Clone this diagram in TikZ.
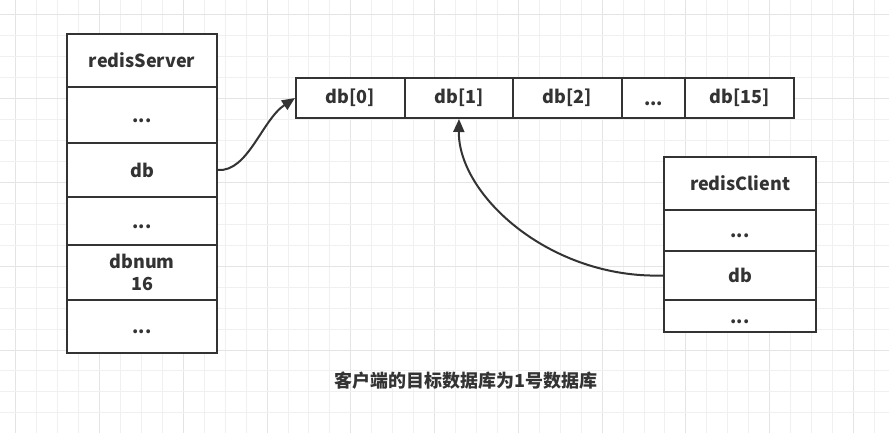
\documentclass[tikz,border=0pt]{standalone}
\usepackage{fontspec}
\setmainfont{Noto Sans CJK SC}
\usetikzlibrary{arrows.meta}
\definecolor{ink}{HTML}{333333}
\definecolor{gridminor}{HTML}{F0F0F0}
\definecolor{gridmajor}{HTML}{E4E4E4}
\newcommand{\dotsx}{\vphantom{db}...}
\tikzset{
  cell/.style={draw=ink, line width=2pt, fill=white, inner sep=0pt, text=ink,
    font=\fontsize{18}{22}\selectfont\bfseries, align=center},
  link/.style={draw=ink, line width=2pt, -{Triangle[length=13pt,width=11pt]}},
}
\begin{document}
\begin{tikzpicture}[x=1pt,y=-1pt]
\useasboundingbox (0,0) rectangle (889,433);
\fill[white] (0,0) rectangle (889,433);
% grid
\foreach \i in {0,...,42}{
  \pgfmathsetmacro{\gx}{15.8+20.94*\i}
  \pgfmathtruncatemacro{\m}{mod(\i,4)}
  \ifnum\m=0 \draw[gridmajor,line width=1pt] (\gx,0) -- (\gx,433);
  \else \draw[gridminor,line width=1pt] (\gx,0) -- (\gx,433); \fi
}
\foreach \j in {0,...,20}{
  \pgfmathsetmacro{\gy}{15+20.94*\j}
  \pgfmathtruncatemacro{\m}{mod(\j,4)}
  \ifnum\m=0 \draw[gridmajor,line width=1pt] (0,\gy) -- (889,\gy);
  \else \draw[gridminor,line width=1pt] (0,\gy) -- (889,\gy); \fi
}
% redisServer
\node[cell, minimum width=150pt, minimum height=53pt] (s1) at (142,60.5) {redisServer};
\node[cell, minimum width=150pt, minimum height=56pt] (s2) at (142,115) {\dotsx};
\node[cell, minimum width=150pt, minimum height=54pt] (s3) at (142,170) {db};
\node[cell, minimum width=150pt, minimum height=48pt] (s4) at (142,221) {\dotsx};
\node[cell, minimum width=150pt, minimum height=55pt] (s5) at (142,272.5) {dbnum\\16};
\node[cell, minimum width=150pt, minimum height=53pt] (s6) at (142,326.5) {\dotsx};
% db array
\node[cell, minimum width=109pt, minimum height=40pt] (a0) at (350.5,98) {db[0]};
\node[cell, minimum width=108pt, minimum height=40pt] (a1) at (459,98) {db[1]};
\node[cell, minimum width=109pt, minimum height=40pt] (a2) at (567.5,98) {db[2]};
\node[cell, minimum width=63pt, minimum height=40pt] (a3) at (653.5,98) {\dotsx};
\node[cell, minimum width=109pt, minimum height=40pt] (a4) at (739.5,98) {db[15]};
% redisClient
\node[cell, minimum width=152pt, minimum height=53pt] (c1) at (740,183.5) {redisClient};
\node[cell, minimum width=152pt, minimum height=41pt] (c2) at (740,230.5) {\dotsx};
\node[cell, minimum width=152pt, minimum height=49pt] (c3) at (740,275.5) {db};
\node[cell, minimum width=152pt, minimum height=32pt] (c4) at (740,316) {\dotsx};
% connectors
\draw[link] (s3.east) .. controls (248,172) and (262,120) .. (a0.west);
\draw[link] (c3.west) .. controls (550,279) and (458,195) .. (a1.south);
% caption
\node[text=ink, font=\fontsize{18}{20}\selectfont\bfseries] (cap) at (466,381) {客户端的目标数据库为1号数据库};
\end{tikzpicture}
\end{document}
